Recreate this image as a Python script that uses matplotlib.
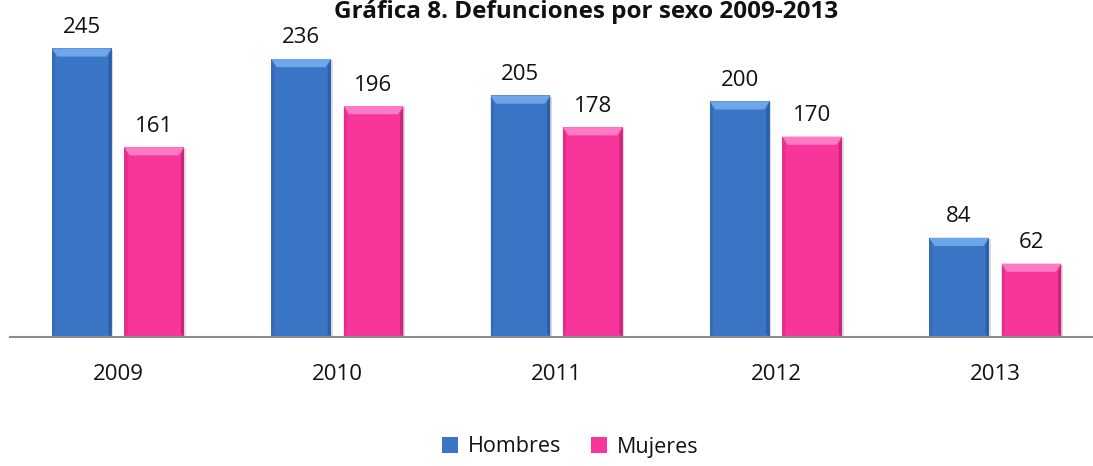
import matplotlib
matplotlib.use("Agg")
import matplotlib.pyplot as plt
from matplotlib.patches import Polygon
import numpy as np

plt.rcParams['font.family'] = ['Open Sans', 'DejaVu Sans']

# Data
years = ["2009", "2010", "2011", "2012", "2013"]
hombres = [245, 236, 205, 200, 84]
mujeres = [161, 196, 178, 170, 62]
series_names = ["Hombres", "Mujeres"]

title = "Gráfica 8. Defunciones por sexo 2009-2013"

colors = {
    "Hombres": {"face": "#3b76c6", "top": "#6ea6ea", "edge": "#2a5a9e"},
    "Mujeres": {"face": "#f7359a", "top": "#ff7ac4", "edge": "#c21f74"},
}

W, H = 1093, 466
fig = plt.figure(figsize=(W / 100, H / 100), dpi=100)
ax = fig.add_axes([10 / W, (H - 336.5) / H, 1 - 10 / W, 336.5 / H])

x = np.arange(len(years))
width = 0.272
offset = 0.165
px_per_unit_y = 1.176
ymax = 336.5 / px_per_unit_y


def bevel(ax, bars, c):
    """Give each bar a light top bevel and darker side edges."""
    for b in bars:
        x0, y0 = b.get_x(), b.get_y()
        w, h = b.get_width(), b.get_height()
        dx = w * 0.09
        dy = min(7.0, h * 0.3)
        # top bevel
        ax.add_patch(Polygon([[x0, y0 + h], [x0 + w, y0 + h],
                              [x0 + w - dx, y0 + h - dy], [x0 + dx, y0 + h - dy]],
                             closed=True, facecolor=c["top"], edgecolor="none", zorder=3))
        # side edges
        ax.add_patch(Polygon([[x0, y0], [x0 + dx * 0.6, y0 + dy * 0.3],
                              [x0 + dx * 0.6, y0 + h - dy], [x0, y0 + h]],
                             closed=True, facecolor=c["edge"], alpha=0.35,
                             edgecolor="none", zorder=3))
        ax.add_patch(Polygon([[x0 + w, y0], [x0 + w - dx * 0.6, y0 + dy * 0.3],
                              [x0 + w - dx * 0.6, y0 + h - dy], [x0 + w, y0 + h]],
                             closed=True, facecolor=c["edge"], alpha=0.8,
                             edgecolor="none", zorder=3))
        # soft shadow
        ax.add_patch(Polygon([[x0 + w, y0 - 1.5], [x0 + w + 0.008, y0 - 1.5],
                              [x0 + w + 0.008, y0 + h - 1], [x0 + w, y0 + h - 1]],
                             closed=True, facecolor="#999999", alpha=0.35,
                             edgecolor="none", zorder=1))


bars_h = ax.bar(x - offset, hombres, width, color=colors["Hombres"]["face"],
                zorder=2, label="Hombres")
bars_m = ax.bar(x + offset, mujeres, width, color=colors["Mujeres"]["face"],
                zorder=2, label="Mujeres")
bevel(ax, bars_h, colors["Hombres"])
bevel(ax, bars_m, colors["Mujeres"])

for bars, vals in ((bars_h, hombres), (bars_m, mujeres)):
    for b, v in zip(bars, vals):
        ax.text(b.get_x() + b.get_width() / 2, v + 21 / px_per_unit_y, f"{v}",
                ha="center", va="center", fontsize=16, color="#111111", zorder=4)

ax.set_xlim(-0.4925, 4.446)
ax.set_ylim(0, ymax)
ax.set_xticks(x)
ax.set_xticklabels(years, fontsize=16, color="#111111")
ax.tick_params(axis="x", length=0, pad=20)
ax.set_yticks([])
for s in ("top", "right", "left"):
    ax.spines[s].set_visible(False)
ax.spines["bottom"].set_color("#8c8c8c")
ax.spines["bottom"].set_linewidth(1.5)
ax.spines["bottom"].set_zorder(5)

leg = fig.legend(handles=[bars_h, bars_m], labels=series_names, loc="center",
                 bbox_to_anchor=(570 / W, 1 - 447 / H), ncol=2, frameon=False,
                 fontsize=15.5, handlelength=0.75, handleheight=0.75,
                 handletextpad=0.45, columnspacing=1.4)
for t in leg.get_texts():
    t.set_color("#111111")

fig.text(586 / W, 1 - 18 / H, title, ha="center", va="baseline",
         fontsize=17.5, fontweight="bold", color="#111111")

fig.savefig("out.png", dpi=100, facecolor="white")
